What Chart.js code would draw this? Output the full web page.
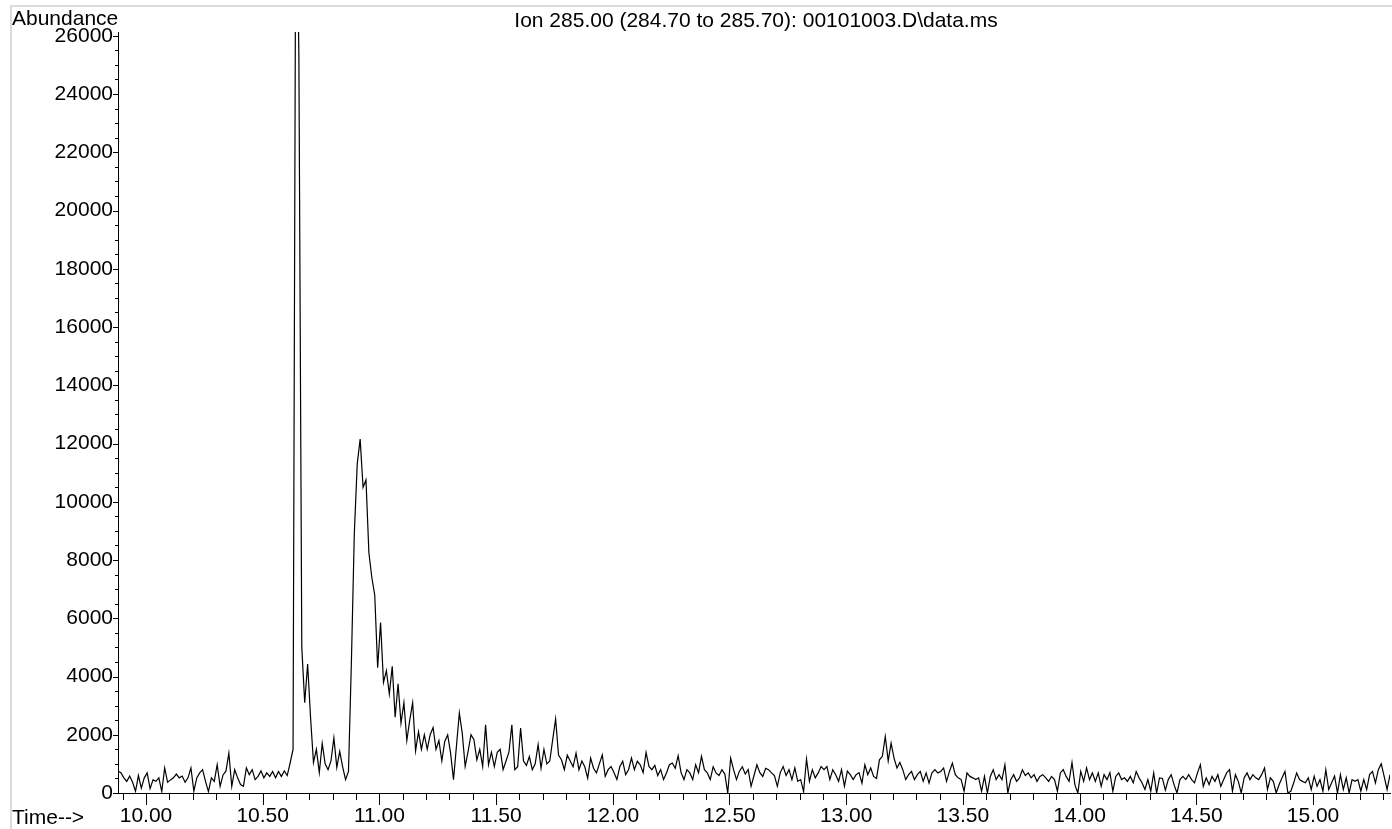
<!DOCTYPE html>
<html>
<head>
<meta charset="utf-8">
<script src="https://cdn.jsdelivr.net/npm/chart.js@4.4.1/dist/chart.umd.min.js"></script>
<style>
html,body{margin:0;padding:0;background:#fff;overflow:hidden;}
canvas{display:block;}
</style>
</head>
<body>
<canvas id="c" width="1392" height="829"></canvas>
<script>
const chartTitle = 'Ion 285.00 (284.70 to 285.70): 00101003.D\\data.ms';
const yAxisTitle = 'Abundance';
const xAxisTitle = 'Time-->';
const scanStart = 9.88;
const scanStep = 0.0125;
const xTickLabels = ['10.00','10.50','11.00','11.50','12.00','12.50','13.00','13.50','14.00','14.50','15.00'];
const yTickLabels = ['0','2000','4000','6000','8000','10000','12000','14000','16000','18000','20000','22000','24000','26000'];
const abundance = [
750,700,520,400,580,370,60,600,170,520,
690,150,450,400,520,50,860,370,450,520,
650,520,580,370,520,860,60,520,690,800,
400,50,520,400,970,230,620,750,1370,230,
800,520,290,230,860,630,800,460,570,760,
520,690,570,740,520,740,570,760,600,1030,
1500,33000,25300,5000,3100,4430,2600,1050,1500,700,
1700,1000,800,1100,1890,880,1430,900,460,740,
4500,8900,11300,12150,10500,10750,8250,7400,6800,4300,
5850,3800,4200,3400,4350,2600,3750,2400,3100,1800,
2500,3100,1450,2100,1500,2000,1500,2000,2250,1500,
1800,1100,1770,2000,1370,460,1600,2750,2050,910,
1430,2000,1830,1140,1500,910,2340,970,1400,910,
1400,1500,800,1100,1400,2340,800,900,2230,1100,
950,1250,800,1000,1660,850,1500,1000,1100,1830,
2540,1300,1140,800,1300,1100,900,1370,800,1100,
900,510,
1200,850,690,1000,1310,570,800,910,700,460,
900,1090,630,800,1200,800,1090,970,700,1390,
910,800,950,600,800,460,690,970,1030,850,
1280,700,460,800,690,460,970,700,1260,800,
690,460,900,690,600,800,650,0,1200,800,
460,750,900,650,800,230,600,970,700,570,
850,800,690,600,230,700,910,600,800,460,
860,400,460,50,1170,400,800,520,690,910,
800,910,460,800,630,400,800,230,750,630,
460,630,700,340,970,630,860,570,500,1140,
1260,1940,1100,1715,1200,860,1050,800,460,630,
740,460,630,740,400,690,340,690,800,690,
740,860,400,740,1030,630,520,460,60,690,
570,520,460,520,60,570,0,570,800,460,
630,460,970,0,460,630,400,520,800,600,
690,520,630,400,570,630,520,400,570,460,
60,690,800,570,400,1050,280,0,740,400,
860,460,690,400,690,230,630,460,700,60,
570,690,460,520,400,570,350,740,520,350,
120,460,60,690,0,520,500,100,460,630,
280,0,460,570,460,630,460,350,690,970,
230,520,290,570,400,630,230,460,690,800,
60,630,400,0,520,690,460,630,520,460,
630,860,120,520,400,0,290,520,740,0,
60,350,690,460,400,350,520,120,580,230,
460,60,800,120,350,580,0,630,120,520,
0,460,400,460,60,460,120,630,740,350,
800,1000,570,120,630
];

const X_MIN = 9.88, X_MAX = 15.33, Y_MIN = 0, Y_MAX = 26130;
const xMinorStep = 0.1, xMajorStep = 0.5, yMinorStep = 500, yMajorStep = 2000;
const FONT = '"Liberation Sans", Arial, sans-serif';

const points = abundance.map((v, i) => ({ x: scanStart + i * scanStep, y: v }));

const decoPlugin = {
  id: 'deco',
  beforeDraw(chart) {
    const ctx = chart.ctx;
    ctx.save();
    ctx.fillStyle = '#fff';
    ctx.fillRect(0, 0, chart.width, chart.height);
    ctx.strokeStyle = '#d0d0d0';
    ctx.lineWidth = 1.5;
    ctx.beginPath();
    ctx.moveTo(11, chart.height);
    ctx.lineTo(11, 6);
    ctx.lineTo(chart.width, 6);
    ctx.stroke();
    ctx.restore();
  },
  afterDraw(chart) {
    const { ctx, chartArea } = chart;
    const xs = chart.scales.x, ys = chart.scales.y;
    ctx.save();
    ctx.strokeStyle = '#000';
    ctx.lineWidth = 1;
    ctx.beginPath();
    const k0 = Math.ceil(xs.min / xMinorStep - 1e-9);
    for (let k = k0; k * xMinorStep <= xs.max + 1e-9; k++) {
      const v = k * xMinorStep;
      const r = v / xMajorStep;
      const major = Math.abs(r - Math.round(r)) < 1e-6;
      const px = Math.round(xs.getPixelForValue(v)) + 0.5;
      ctx.moveTo(px, chartArea.bottom);
      ctx.lineTo(px, chartArea.bottom + (major ? 12 : 7));
    }
    for (let v = 0; v <= ys.max + 1e-9; v += yMinorStep) {
      const major = v % yMajorStep === 0;
      const py = Math.round(ys.getPixelForValue(v)) + 0.5;
      ctx.moveTo(chartArea.left, py);
      ctx.lineTo(chartArea.left - (major ? 5 : 3), py);
    }
    ctx.stroke();
    ctx.fillStyle = '#000';
    ctx.font = '21px ' + FONT;
    ctx.textBaseline = 'alphabetic';
    ctx.textAlign = 'left';
    ctx.fillText(yAxisTitle, 12, 25);
    ctx.fillText(xAxisTitle, 12, 824);
    ctx.textAlign = 'center';
    ctx.fillText(chartTitle, 756, 27);
    ctx.restore();
  }
};

new Chart(document.getElementById('c'), {
  type: 'line',
  data: {
    datasets: [{
      data: points,
      borderColor: '#000',
      borderWidth: 1.2,
      pointRadius: 0,
      tension: 0,
      fill: false
    }]
  },
  options: {
    responsive: false,
    animation: false,
    devicePixelRatio: 1,
    parsing: false,
    layout: { padding: { left: 0, right: 2, top: 32, bottom: 0 } },
    plugins: { legend: { display: false }, tooltip: { enabled: false }, title: { display: false } },
    scales: {
      x: {
        type: 'linear',
        min: X_MIN, max: X_MAX,
        afterFit: s => { s.height = 36; },
        afterBuildTicks: s => { s.ticks = xTickLabels.map(t => ({ value: parseFloat(t) })); },
        ticks: {
          autoSkip: false, maxRotation: 0, minRotation: 0, padding: 11, color: '#000',
          font: { family: FONT, size: 21 },
          callback: (v, i) => xTickLabels[i]
        },
        grid: { display: true, drawOnChartArea: false, drawTicks: false },
        border: { display: true, color: '#000', width: 1 }
      },
      y: {
        type: 'linear',
        min: Y_MIN, max: Y_MAX,
        afterFit: s => { s.width = 118; },
        afterBuildTicks: s => { s.ticks = yTickLabels.map(t => ({ value: Number(t) })); },
        ticks: {
          autoSkip: false, padding: 5, color: '#000',
          font: { family: FONT, size: 21 },
          callback: (v, i) => yTickLabels[i]
        },
        grid: { display: true, drawOnChartArea: false, drawTicks: false },
        border: { display: true, color: '#000', width: 1 }
      }
    }
  },
  plugins: [decoPlugin]
});
</script>
</body>
</html>
